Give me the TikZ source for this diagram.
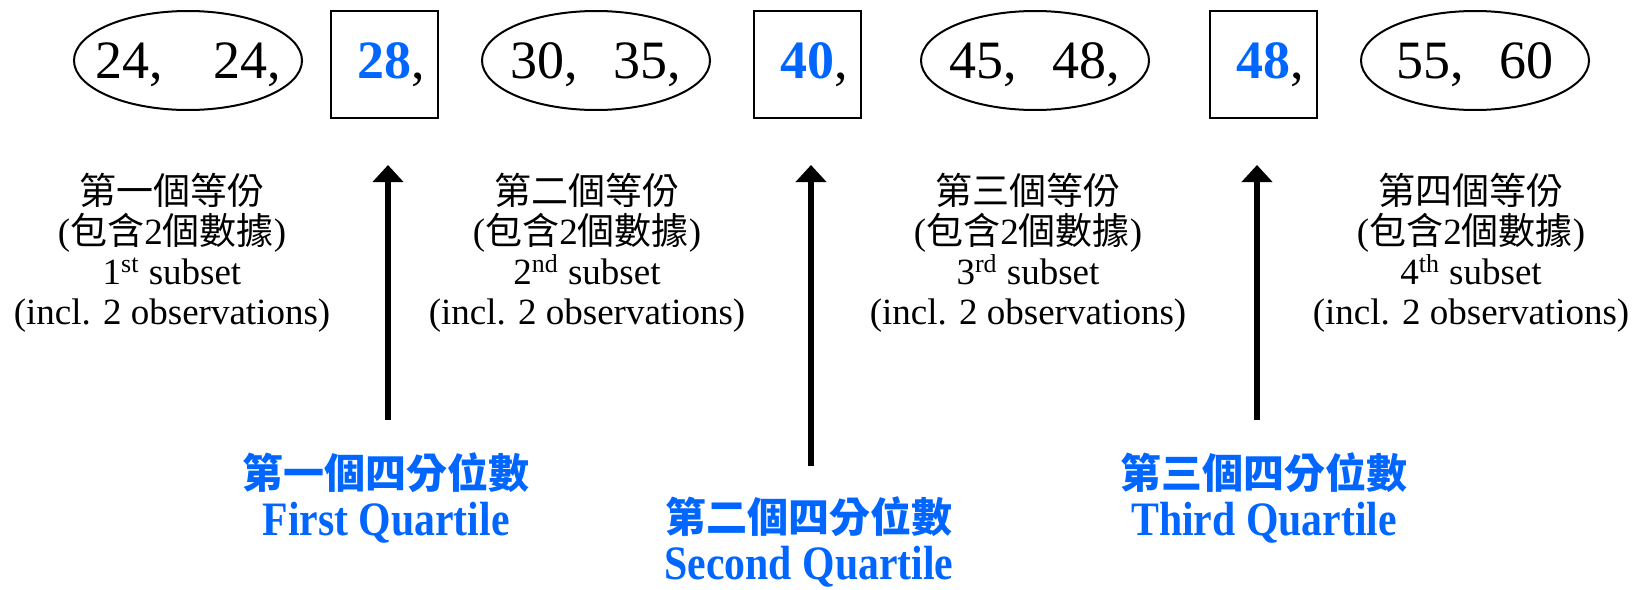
\documentclass[tikz,border=0pt]{standalone}
\usepackage{fontspec}
\IfFontExistsTF{LiberationSerif-Regular.ttf}
  {\setmainfont{LiberationSerif}[Extension=.ttf, UprightFont=*-Regular, BoldFont=*-Bold,
     ItalicFont=*-Italic, BoldItalicFont=*-BoldItalic]}
  {\setmainfont{Liberation Serif}}
\newfontfamily\cjk{Noto Sans CJK TC}
\newfontfamily\qfont{Liberation Serif}[FakeStretch=0.87]
\definecolor{QuartBlue}{HTML}{0066FF}
\usetikzlibrary{arrows.meta,positioning,shapes.geometric}
\newcommand{\zh}[1]{{\cjk #1}}
\newcommand{\qnum}[1]{\textcolor{QuartBlue}{\bfseries #1}\rlap{,}}
\newcommand{\inell}[1]{\raisebox{-9.25pt}[0pt][0pt]{\makebox[0pt]{#1}}}

\begin{document}
\begin{tikzpicture}[
    x=0.5pt, y=-0.5pt,
    grp/.style={draw, ellipse, line width=1pt, inner sep=0pt, minimum width=114pt,
      minimum height=49.5pt, font=\fontsize{27}{30}\selectfont},
    qbox/.style={draw, line width=1pt, inner sep=0pt, minimum width=53.5pt,
      minimum height=53.5pt, font=\fontsize{27}{30}\selectfont},
    sub/.style={align=center, inner sep=0pt, font=\fontsize{18.5}{20}\selectfont},
    qlab/.style={align=center, inner sep=0pt, text=QuartBlue,
      font=\fontsize{24}{23.5}\selectfont\bfseries},
    arr/.style={-{Triangle[width=15pt,length=8.5pt]}, line width=3pt}
  ]
    \useasboundingbox (0,0) rectangle (1636,589);
    % data row
    \node[grp] (g1) at (188,60.5) {\inell{24,\hspace{25.5pt}24,}};
    \node[qbox] (q1) at (384,64.5) {\qnum{28}};
    \node[grp] (g2) at (596,60.5) {\inell{30,\hspace{18pt}35,}};
    \node[qbox] (q2) at (807,64.5) {\qnum{40}};
    \node[grp] (g3) at (1035,60.5) {\inell{45,\hspace{18pt}48,}};
    \node[qbox] (q3) at (1263,64.5) {\qnum{48}};
    \node[grp] (g4) at (1475,60.5) {\inell{55,\hspace{18pt}60}};
    % subsets
    \node[sub] (s1) at (172,253) {\zh{第一個等份}\\(\zh{包含}2\zh{個數據})\\1\textsuperscript{st} subset\\(incl. 2 observations)};
    \node[sub] (s2) at (587,253) {\zh{第二個等份}\\(\zh{包含}2\zh{個數據})\\2\textsuperscript{nd} subset\\(incl. 2 observations)};
    \node[sub] (s3) at (1028,253) {\zh{第三個等份}\\(\zh{包含}2\zh{個數據})\\3\textsuperscript{rd} subset\\(incl. 2 observations)};
    \node[sub] (s4) at (1471,253) {\zh{第四個等份}\\(\zh{包含}2\zh{個數據})\\4\textsuperscript{th} subset\\(incl. 2 observations)};
    % quartile arrows
    \coordinate (a1) at (388,420);
    \coordinate (a2) at (811,466);
    \coordinate (a3) at (1257,420);
    \draw[arr, shorten >=23pt] (a1) -- (a1 |- q1.south);
    \draw[arr, shorten >=23pt] (a2) -- (a2 |- q2.south);
    \draw[arr, shorten >=23pt] (a3) -- (a3 |- q3.south);
    \node[qlab] (l1) at (386,498) {{\fontsize{20.5}{23.5}\selectfont\zh{第一個四分位數}}\\\qfont First Quartile};
    \node[qlab] (l2) at (809,542) {{\fontsize{20.5}{23.5}\selectfont\zh{第二個四分位數}}\\\qfont Second Quartile};
    \node[qlab] (l3) at (1264,498) {{\fontsize{20.5}{23.5}\selectfont\zh{第三個四分位數}}\\\qfont Third Quartile};
  \end{tikzpicture}
\end{document}
